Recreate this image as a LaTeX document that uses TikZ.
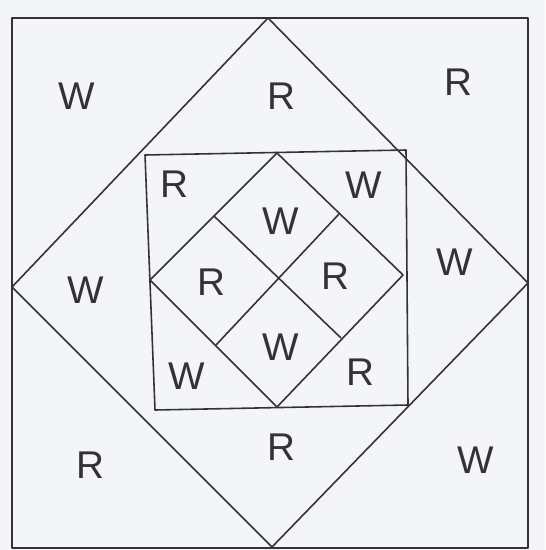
\documentclass[tikz,border=0pt]{standalone}
\usepackage{fontspec}
\setmainfont{Liberation Sans}
\definecolor{paper}{RGB}{244,245,249}
\definecolor{pencil}{RGB}{50,50,55}
\begin{document}
\begin{tikzpicture}[x=0.02cm,y=-0.02cm,line width=0.9pt]
\tikzset{seam/.style={draw=pencil,line width=0.9pt,line join=round},
  patch/.style={font=\fontsize{22}{26}\selectfont,text=pencil,inner sep=0pt}}
\fill[paper] (0,0) rectangle (545,550);
\useasboundingbox (0,0) rectangle (545,550);
% ---------- outer square and big diamond ----------
\coordinate (oa) at (12,18);  \coordinate (ob) at (528,18);
\coordinate (oc) at (528,548); \coordinate (od) at (12,548);
\coordinate (dt) at (268,18); \coordinate (dr) at (528,283);
\coordinate (db) at (272,547); \coordinate (dl) at (12,287);
\draw[seam] (oa) -- (ob) -- (oc) -- (od) -- cycle;
\draw[seam] (dt) -- (dr) -- (db) -- (dl) -- cycle;
% ---------- inner square ----------
\coordinate (ia) at (145,155); \coordinate (ib) at (406,150);
\coordinate (ic) at (408,405); \coordinate (id) at (155,410);
\draw[seam] (ia) -- (ib) -- (ic) -- (id) -- cycle;
% ---------- inner diamond, cut in four ----------
\coordinate (kt) at (277,153); \coordinate (kr) at (403,275);
\coordinate (kb) at (277,407); \coordinate (kl) at (150,280);
\coordinate (ktl) at (214,216); \coordinate (ktr) at (339,214);
\coordinate (kbl) at (216,345); \coordinate (kbr) at (341,338);
\draw[seam] (kt) -- (kr) -- (kb) -- (kl) -- cycle;
\draw[seam] (ktl) -- (kbr);
\draw[seam] (ktr) -- (kbl);
% ---------- colours of the patches ----------
\node[patch] (w1) at (77,96) {W};
\node[patch] (r1) at (281,96) {R};
\node[patch] (r2) at (458,82) {R};
\node[patch] (w2) at (86,290) {W};
\node[patch] (w3) at (455,262) {W};
\node[patch] (r3) at (90,465) {R};
\node[patch] (r4) at (281,447) {R};
\node[patch] (w4) at (476,460) {W};
\node[patch] (r5) at (174,184) {R};
\node[patch] (w5) at (364,185) {W};
\node[patch] (w6) at (281,221) {W};
\node[patch] (r6) at (211,282) {R};
\node[patch] (r7) at (335,276) {R};
\node[patch] (w7) at (281,347) {W};
\node[patch] (w8) at (187,376) {W};
\node[patch] (r8) at (360,372) {R};
\end{tikzpicture}
\end{document}
